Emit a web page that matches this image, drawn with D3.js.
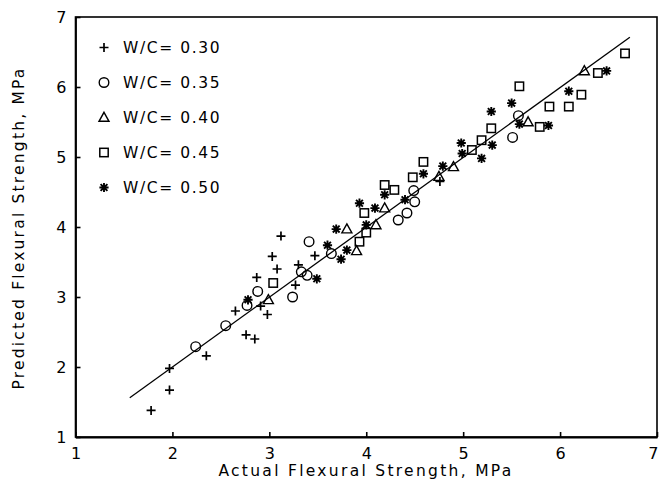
<!DOCTYPE html>
<html><head><meta charset="utf-8">
<script src="https://cdn.jsdelivr.net/npm/d3@7"></script>
<style>
html,body{margin:0;padding:0;background:#fff;}
text{font-family:"DejaVu Sans",sans-serif;fill:#000;}
</style></head>
<body>
<svg id="c" width="659" height="482"></svg>
<script>
const xTicks = [1,2,3,4,5,6,7];
const yTicks = [1,2,3,4,5,6,7];
const seriesNames = ["W/C= 0.30","W/C= 0.35","W/C= 0.40","W/C= 0.45","W/C= 0.50"];
const seriesSymbols = ["plus","circle","triangle","square","asterisk"];
const wc030 = [[1.78,1.38],[1.97,1.67],[1.97,1.98],[2.35,2.16],[2.76,2.46],[2.85,2.40],[2.65,2.80],[2.98,2.75],[2.91,2.87],[2.87,3.28],[3.03,3.58],[3.08,3.40],[3.12,3.87],[3.30,3.46],[3.27,3.17],[3.47,3.59],[4.76,4.65]];
const wc035 = [[2.24,2.29],[2.55,2.59],[2.77,2.88],[2.88,3.08],[3.24,3.00],[3.33,3.36],[3.39,3.31],[3.41,3.79],[3.64,3.62],[4.33,4.10],[4.42,4.20],[4.50,4.36],[4.49,4.52],[5.57,5.59],[5.51,5.28]];
const wc040 = [[2.99,2.96],[3.80,3.97],[3.90,3.66],[4.10,4.03],[4.19,4.27],[4.75,4.72],[4.90,4.86],[5.67,5.50],[6.25,6.23]];
const wc045 = [[3.04,3.20],[3.93,3.79],[4.00,3.92],[3.98,4.20],[4.19,4.60],[4.29,4.53],[4.48,4.71],[4.59,4.93],[5.09,5.10],[5.19,5.24],[5.29,5.41],[5.58,6.01],[5.79,5.43],[5.89,5.72],[6.09,5.72],[6.22,5.89],[6.39,6.20],[6.67,6.48]];
const wc050 = [[2.78,2.96],[3.49,3.26],[3.60,3.74],[3.69,3.97],[3.80,3.67],[3.74,3.54],[4.00,4.03],[3.93,4.34],[4.09,4.27],[4.19,4.46],[4.40,4.39],[4.59,4.76],[4.79,4.87],[4.98,5.20],[4.99,5.05],[5.19,4.98],[5.30,5.17],[5.29,5.65],[5.50,5.77],[5.58,5.47],[5.88,5.45],[6.09,5.94],[6.48,6.23]];
const fitLine = [[1.56,1.56],[6.72,6.71]];
const seriesData = [wc030,wc035,wc040,wc045,wc050];

const svg = d3.select("#c");
const x = d3.scaleLinear().domain([1,7]).range([75.5,657]);
const y = d3.scaleLinear().domain([1,7]).range([437,17]);

function drawSym(g, type){
  if(type==="plus"){
    g.append("path").attr("d","M-4.5,0H4.5M0,-4.5V4.5").attr("stroke","#000").attr("stroke-width",1.7).attr("fill","none");
  } else if(type==="circle"){
    g.append("circle").attr("r",4.8).attr("stroke","#000").attr("stroke-width",1.4).attr("fill","none");
  } else if(type==="triangle"){
    g.append("path").attr("d","M0,-5.2L5,3.8L-5,3.8Z").attr("stroke","#000").attr("stroke-width",1.4).attr("fill","none");
  } else if(type==="square"){
    g.append("rect").attr("x",-4.2).attr("y",-4.2).attr("width",8.4).attr("height",8.4).attr("stroke","#000").attr("stroke-width",1.5).attr("fill","none");
  } else {
    g.append("path").attr("d","M-4.6,0H4.6M0,-4.6V4.6M-3.4,-3.4L3.4,3.4M-3.4,3.4L3.4,-3.4").attr("stroke","#000").attr("stroke-width",1.9).attr("fill","none");
  }
}

// frame
svg.append("rect").attr("x",x(1)).attr("y",y(7)).attr("width",x(7)-x(1)).attr("height",y(1)-y(7))
  .attr("fill","none").attr("stroke","#000").attr("stroke-width",1.6);

// axes
const xAxis = svg.append("g").attr("transform",`translate(0,${y(1)})`)
  .call(d3.axisBottom(x).tickValues(xTicks).tickFormat(d3.format("d")).tickSizeInner(-5).tickSizeOuter(0).tickPadding(11));
const yAxis = svg.append("g").attr("transform",`translate(${x(1)},0)`)
  .call(d3.axisLeft(y).tickValues(yTicks).tickFormat(d3.format("d")).tickSizeInner(-5).tickSizeOuter(0).tickPadding(9));
[xAxis,yAxis].forEach(a=>{
  a.select(".domain").attr("stroke-width",1.8);
  a.selectAll(".tick line").attr("stroke-width",1.6);
  a.selectAll(".tick text").style("font-size","16px").attr("font-family","DejaVu Sans, sans-serif");
});
xAxis.selectAll(".tick").filter(d=>d===7).select("text").attr("text-anchor","end").attr("dx","1px");

// fit line
svg.append("path").datum(fitLine)
  .attr("d",d3.line().x(d=>x(d[0])).y(d=>y(d[1])))
  .attr("stroke","#000").attr("stroke-width",1.3).attr("fill","none");

// points
seriesData.forEach((data,i)=>{
  svg.append("g").selectAll("g").data(data).join("g")
    .attr("transform",d=>`translate(${x(d[0])},${y(d[1])})`)
    .each(function(){ drawSym(d3.select(this), seriesSymbols[i]); });
});

// legend
const leg = svg.append("g");
seriesNames.forEach((n,i)=>{
  const yy = 47.5 + i*35;
  const g = leg.append("g").attr("transform",`translate(104,${yy})`);
  drawSym(g, seriesSymbols[i]);
  leg.append("text").attr("x",123).attr("y",yy).attr("dy","0.36em")
    .style("font-size","15.5px").style("letter-spacing","1.6px").text(n);
});

// axis titles
svg.append("text").attr("x",366).attr("y",476).attr("text-anchor","middle")
  .style("font-size","15.5px").style("letter-spacing","2.3px").text("Actual Flexural Strength, MPa");
svg.append("text").attr("transform","translate(24,228) rotate(-90)").attr("text-anchor","middle")
  .style("font-size","15.5px").style("letter-spacing","2.2px").text("Predicted Flexural Strength, MPa");
</script>
</body></html>
